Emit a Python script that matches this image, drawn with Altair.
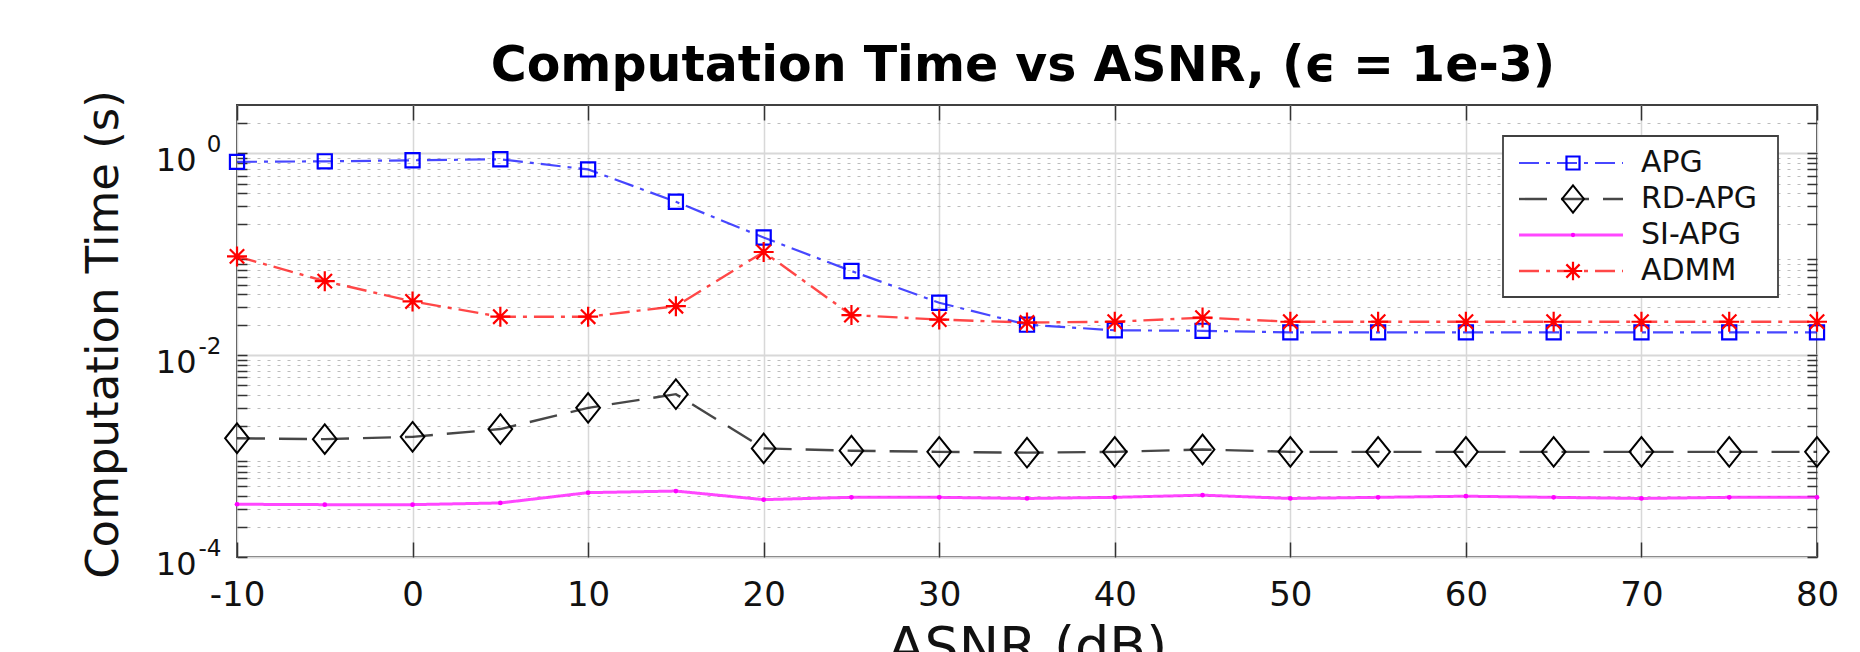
import altair as alt
import pandas as pd

# ---------------- data ----------------
series = ["APG", "RD-APG", "SI-APG", "ADMM"]
asnr = [-10, -5, 0, 5, 10, 15, 20, 25, 30, 35, 40, 45, 50, 55, 60, 65, 70, 75, 80]
apg = [0.82, 0.83, 0.85, 0.87, 0.69, 0.33, 0.146, 0.068, 0.033, 0.020, 0.0176,
       0.0174, 0.0168, 0.0168, 0.0168, 0.0168, 0.0168, 0.0168, 0.0168]
rd_apg = [0.0015, 0.00147, 0.00155, 0.00185, 0.0030, 0.0041, 0.00119, 0.00113, 0.0011,
          0.00108, 0.0011, 0.00116, 0.0011, 0.0011, 0.0011, 0.0011, 0.0011, 0.0011, 0.0011]
si_apg = [0.000333, 0.00033, 0.00033, 0.000343, 0.000434, 0.00045, 0.00037, 0.00039,
          0.00039, 0.00038, 0.00039, 0.00041, 0.00038, 0.00039, 0.0004, 0.00039,
          0.00038, 0.00039, 0.00039]
admm = [0.095, 0.054, 0.034, 0.024, 0.024, 0.0305, 0.105, 0.0249, 0.0225, 0.021,
        0.0214, 0.0235, 0.0214, 0.0214, 0.0214, 0.0214, 0.0214, 0.0214, 0.0214]

x_ticks = [-10, 0, 10, 20, 30, 40, 50, 60, 70, 80]
y_major = [1e-4, 1e-2, 1.0]
y_minor = [round(k * 10.0 ** d, 8) for d in range(-4, 0) for k in range(2, 10)] + [2.0]

title_text = "Computation Time vs ASNR, (\u03f5 = 1e-3)"
x_title = "ASNR (dB)"
y_title = "Computation Time (s)"

values = {"APG": apg, "RD-APG": rd_apg, "SI-APG": si_apg, "ADMM": admm}
df = pd.DataFrame(
    [{"asnr": a, "time": v, "series": s} for s in series for a, v in zip(asnr, values[s])]
)
legend_df = pd.DataFrame({"series": series})

# ---------------- styles ----------------
W, H = 1580, 452
FONT = "DejaVu Sans"
DIAMOND = "M0,-1L0.8,0L0,1L-0.8,0Z"
ASTERISK = "M-1,0L1,0M0,-1L0,1M-0.72,-0.72L0.72,0.72M-0.72,0.72L0.72,-0.72"
styles = {
    "APG": dict(color="#0000ff", dash=[20, 7, 4, 7], shape="square", size=200, sw=2.2, lw=2.2, filled=False),
    "RD-APG": dict(color="#000000", dash=[28, 14], shape=DIAMOND, size=880, sw=2.0, lw=2.4, filled=False),
    "SI-APG": dict(color="#ff00ff", dash=[1, 0], shape="circle", size=22, sw=1, lw=3.0, filled=True),
    "ADMM": dict(color="#ff0000", dash=[20, 7, 4, 7], shape=ASTERISK, size=400, sw=2.2, lw=2.4, filled=False),
}

xscale = alt.Scale(domain=[-10, 80], nice=False, zero=False)
yscale = alt.Scale(type="log", domain=[1e-4, 3], nice=False)

base = alt.Chart(df)


def xy(xaxis=None, yaxis=None):
    return dict(
        x=alt.X("asnr:Q", scale=xscale, axis=xaxis),
        y=alt.Y("time:Q", scale=yscale, axis=yaxis),
    )


ghost = base.mark_point(opacity=0)

# x axis with labels, grid and title
x_main = ghost.encode(**xy(xaxis=alt.Axis(
    orient="bottom", values=x_ticks, labelExpr="'' + datum.value", grid=True,
    gridColor="#d8d8d8", gridWidth=1.5,
    ticks=False, tickSize=0, domain=False, labelFont=FONT, labelFontSize=34,
    labelColor="#111111", labelPadding=21, labelOverlap=False, labelFlush=False,
    title=x_title, titleFont=FONT, titleFontSize=54, titleFontWeight="normal",
    titleColor="#111111", titleX=W / 2, titleY=107, titleAlign="center",
    titleBaseline="alphabetic")))
# inward ticks on bottom and top edges
x_tick_b = ghost.encode(**xy(xaxis=alt.Axis(
    orient="top", offset=-H, values=x_ticks, ticks=True, tickSize=15, tickColor="#333333",
    tickWidth=1.5, labels=False, grid=False, domain=False, title=None)))
x_tick_t = ghost.encode(**xy(xaxis=alt.Axis(
    orient="bottom", offset=-H, values=x_ticks, ticks=True, tickSize=15, tickColor="#333333",
    tickWidth=1.5, labels=False, grid=False, domain=False, title=None)))

# y axis: "10" part of the labels, major grid, title
y_main = ghost.encode(**xy(yaxis=alt.Axis(
    orient="left", values=y_major, labelExpr="'10'", grid=True, gridColor="#d8d8d8",
    gridWidth=2, ticks=False, tickSize=0, domain=False, labelFont=FONT, labelFontSize=32,
    labelColor="#111111", labelPadding=41, labelOffset=7, labelOverlap=False,
    title=y_title, titleFont=FONT, titleFontSize=45, titleFontWeight="normal",
    titleColor="#111111", titleAngle=270, titleX=-120, titleY=H / 2 + 3,
    titleAlign="center", titleBaseline="alphabetic")))
# y axis: exponent part of the labels
y_exp = ghost.encode(**xy(yaxis=alt.Axis(
    orient="left", values=y_major,
    labelExpr="datum.value > 0.5 ? '0' : (datum.value > 0.005 ? '-2' : '-4')",
    grid=False, ticks=False, tickSize=0, domain=False, labelFont=FONT, labelFontSize=23,
    labelColor="#111111", labelPadding=16, labelOffset=-9, labelOverlap=False, title=None)))
# y minor dotted grid
y_minor_grid = ghost.encode(**xy(yaxis=alt.Axis(
    orient="left", values=y_minor, grid=True, gridColor="#bcbcbc", gridWidth=1,
    gridDash=[3, 7], ticks=False, tickSize=0, labels=False, domain=False, title=None)))
# inward ticks on left and right edges
y_tick_l = ghost.encode(**xy(yaxis=alt.Axis(
    orient="right", offset=-W, values=y_major + y_minor, ticks=True, tickSize=10,
    tickColor="#333333", tickWidth=1.5, labels=False, grid=False, domain=False, title=None)))
y_tick_r = ghost.encode(**xy(yaxis=alt.Axis(
    orient="left", offset=-W, values=y_major + y_minor, ticks=True, tickSize=10,
    tickColor="#333333", tickWidth=1.5, labels=False, grid=False, domain=False, title=None)))

data_layers = []
for s in series:
    st = styles[s]
    sub = base.transform_filter(alt.datum.series == s)
    data_layers.append(sub.mark_line(
        color=st["color"], strokeDash=st["dash"], strokeWidth=st["lw"], opacity=0.72
    ).encode(**xy()))
    data_layers.append(sub.mark_point(
        shape=st["shape"], size=st["size"], color=st["color"], strokeWidth=st["sw"],
        filled=st["filled"], opacity=1
    ).encode(**xy()))

main = alt.layer(
    y_minor_grid, x_main, y_main, y_exp, x_tick_b, x_tick_t, y_tick_l, y_tick_r,
    *data_layers
).resolve_axis(x="independent", y="independent")

# ---------------- legend and title ----------------
leg = alt.Chart(legend_df)
one = leg.transform_aggregate(n="count()")
leg_y = alt.Y("series:N", scale=alt.Scale(type="point", domain=series, range=[58, 166], padding=0),
              axis=None)
box = one.mark_rect(
    fill="white", stroke="#404040", strokeWidth=1.8
).encode(x=alt.value(1266), x2=alt.value(1541), y=alt.value(31), y2=alt.value(192))
leg_layers = [box]
for s in series:
    st = styles[s]
    sub = leg.transform_filter(alt.datum.series == s)
    leg_layers.append(sub.mark_rule(
        color=st["color"], strokeDash=st["dash"], strokeWidth=st["lw"], opacity=0.72
    ).encode(x=alt.value(1282), x2=alt.value(1386), y=leg_y))
    leg_layers.append(sub.mark_point(
        shape=st["shape"], size=st["size"] * 0.85, color=st["color"], strokeWidth=st["sw"],
        filled=st["filled"], opacity=1
    ).encode(x=alt.value(1336), y=leg_y))
leg_layers.append(leg.mark_text(
    align="left", baseline="middle", font=FONT, fontSize=30, color="#111111"
).encode(x=alt.value(1404), y=leg_y, text="series:N"))
title_mark = one.mark_text(
    align="center", baseline="alphabetic", font=FONT, fontSize=49, fontWeight="bold",
    color="#000000"
).encode(x=alt.value(W / 2 - 4), y=alt.value(-24), text=alt.value(title_text))
leg_layers.append(title_mark)
legend = alt.layer(*leg_layers)

chart = alt.layer(main, legend).resolve_scale(y="independent").properties(
    width=W, height=H,
    padding={"left": 229, "top": 97, "right": 35, "bottom": 95},
    autosize=alt.AutoSizeParams(type="none"),
).configure_view(stroke="#404040", strokeWidth=2)

chart.save("out.html", embed_options={"renderer": "svg", "actions": False})
